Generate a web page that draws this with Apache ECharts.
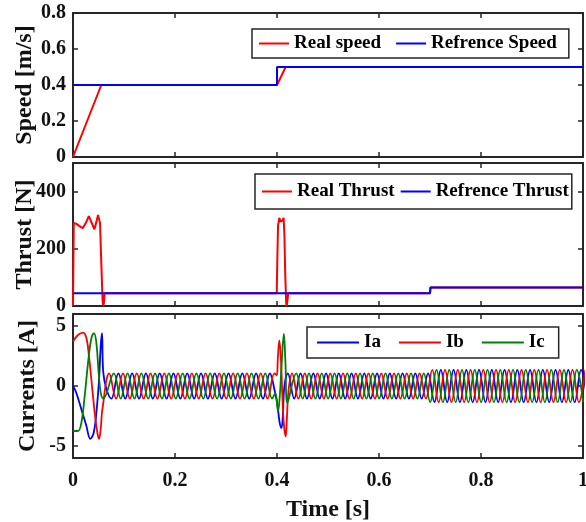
<!DOCTYPE html>
<html>
<head>
<meta charset="utf-8">
<script src="https://cdn.jsdelivr.net/npm/echarts@6/dist/echarts.min.js"></script>
<style>
html,body{margin:0;padding:0;background:#fff;}
#chart{width:586px;height:522px;}
</style>
</head>
<body>
<div id="chart"></div>
<script>
// ---------- data ----------
const timeTicks = [0, 0.2, 0.4, 0.6, 0.8, 1];
const speedTicks = [0, 0.2, 0.4, 0.6, 0.8];
const thrustTicks = [0, 200, 400];
const currentTicks = [-5, 0, 5];

const speedReal = [[0,0],[0.0555,0.4],[0.057,0.41],[0.06,0.4],[0.4,0.4],[0.417,0.5],[1,0.5]];
const speedRef = [[0,0.4],[0.4,0.4],[0.4,0.5],[1,0.5]];

const thrustReal = [[0,0],[0.0015,290],[0.006,288],[0.012,280],[0.019,272],[0.025,290],[0.031,314],[0.034,312],
  [0.038,285],[0.042,268],[0.046,295],[0.049,318],[0.051,318],[0.053,290],[0.0555,150],[0.058,20],[0.059,0],
  [0.0605,10],[0.062,45],[0.3995,45],[0.4005,150],[0.402,280],[0.4045,308],[0.407,295],[0.409,290],[0.411,300],
  [0.413,308],[0.4145,250],[0.416,120],[0.418,10],[0.419,0],[0.4205,20],[0.422,45],[0.7,45],[0.701,65],[1,65]];
const thrustRef = [[0,45],[0.7,45],[0.701,65],[1,65]];

const currentIa = [[0,0],[0.0014,-0.1],[0.0067,-0.6],[0.0165,-1.95],[0.026,-3.3],[0.034,-4.4],[0.0406,-3.9],
  [0.0459,-2.2],[0.051,0.5],[0.0543,3.3],[0.0569,4.4],[0.0592,1.2],[0.0755,-1.05],
  [0.089,1.05],[0.1025,-1.05],[0.116,1.05],[0.1295,-1.05],[0.143,1.05],[0.1565,-1.05],[0.17,1.05],[0.1835,-1.05],
  [0.197,1.05],[0.2105,-1.05],[0.224,1.05],[0.2375,-1.05],[0.251,1.05],[0.2645,-1.05],[0.278,1.05],[0.2915,-1.05],
  [0.305,1.05],[0.3185,-1.05],[0.332,1.05],[0.3455,-1.05],[0.359,1.05],[0.3725,-1.05],[0.386,1.05],
  [0.396,-0.5],[0.401,-1.6],[0.405,-3.0],[0.4087,-3.5],[0.4115,-2.4],[0.4145,0],[0.4212,1.05],
  [0.4337,-1.05],[0.4462,1.05],[0.4587,-1.05],[0.4712,1.05],[0.4837,-1.05],[0.4962,1.05],[0.5087,-1.05],[0.5212,1.05],
  [0.5337,-1.05],[0.5462,1.05],[0.5587,-1.05],[0.5712,1.05],[0.5837,-1.05],[0.5962,1.05],[0.6087,-1.05],[0.6212,1.05],
  [0.6337,-1.05],[0.6462,1.05],[0.6587,-1.05],[0.6712,1.05],[0.6837,-1.05],[0.6962,1.05],
  [0.7087,-1.35],[0.7212,1.35],[0.7337,-1.35],[0.7462,1.35],[0.7587,-1.35],[0.7712,1.35],[0.7837,-1.35],[0.7962,1.35],
  [0.8087,-1.35],[0.8212,1.35],[0.8337,-1.35],[0.8462,1.35],[0.8587,-1.35],[0.8712,1.35],[0.8837,-1.35],[0.8962,1.35],
  [0.9087,-1.35],[0.9212,1.35],[0.9337,-1.35],[0.9462,1.35],[0.9587,-1.35],[0.9712,1.35],[0.9837,-1.35],[0.9962,1.35],
  [1.0087,-1.35]];

const currentIb = [[0,3.7],[0.0098,4.25],[0.0196,4.45],[0.0263,4.0],[0.0314,2.45],[0.0361,0.5],[0.0425,-2.2],
  [0.0478,-3.9],[0.051,-4.4],[0.0543,-3.6],[0.0576,-1.95],
  [0.071,1.05],[0.0845,-1.05],[0.098,1.05],[0.1115,-1.05],[0.125,1.05],[0.1385,-1.05],[0.152,1.05],[0.1655,-1.05],
  [0.179,1.05],[0.1925,-1.05],[0.206,1.05],[0.2195,-1.05],[0.233,1.05],[0.2465,-1.05],[0.26,1.05],[0.2735,-1.05],
  [0.287,1.05],[0.3005,-1.05],[0.314,1.05],[0.3275,-1.05],[0.341,1.05],[0.3545,-1.05],[0.368,1.05],[0.3815,-1.05],
  [0.395,1.05],[0.3995,0.9],[0.4015,2.2],[0.4045,3.8],[0.4075,2.4],[0.4105,-0.8],[0.4135,-3.2],[0.417,-4.2],
  [0.4195,-2.6],[0.4225,-0.4],
  [0.4295,1.05],[0.442,-1.05],[0.4545,1.05],[0.467,-1.05],[0.4795,1.05],[0.492,-1.05],[0.5045,1.05],[0.517,-1.05],
  [0.5295,1.05],[0.542,-1.05],[0.5545,1.05],[0.567,-1.05],[0.5795,1.05],[0.592,-1.05],[0.6045,1.05],[0.617,-1.05],
  [0.6295,1.05],[0.642,-1.05],[0.6545,1.05],[0.667,-1.05],[0.6795,1.05],[0.692,-1.05],
  [0.7045,1.35],[0.717,-1.35],[0.7295,1.35],[0.742,-1.35],[0.7545,1.35],[0.767,-1.35],[0.7795,1.35],[0.792,-1.35],
  [0.8045,1.35],[0.817,-1.35],[0.8295,1.35],[0.842,-1.35],[0.8545,1.35],[0.867,-1.35],[0.8795,1.35],[0.892,-1.35],
  [0.9045,1.35],[0.917,-1.35],[0.9295,1.35],[0.942,-1.35],[0.9545,1.35],[0.967,-1.35],[0.9795,1.35],[0.992,-1.35],
  [1.0045,1.35]];

const currentIc = [[0,-3.75],[0.0098,-3.75],[0.0165,-3.05],[0.0229,-0.85],[0.0294,1.9],[0.0361,4.0],[0.0412,4.4],
  [0.0459,3.55],[0.0504,1.05],[0.0545,-0.6],[0.0595,-1.05],
  [0.08,1.05],[0.0935,-1.05],[0.107,1.05],[0.1205,-1.05],[0.134,1.05],[0.1475,-1.05],[0.161,1.05],[0.1745,-1.05],
  [0.188,1.05],[0.2015,-1.05],[0.215,1.05],[0.2285,-1.05],[0.242,1.05],[0.2555,-1.05],[0.269,1.05],[0.2825,-1.05],
  [0.296,1.05],[0.3095,-1.05],[0.323,1.05],[0.3365,-1.05],[0.35,1.05],[0.3635,-1.05],[0.377,1.05],[0.3905,-1.05],
  [0.3965,-0.6],[0.402,-2.1],[0.4055,-0.8],[0.409,1.8],[0.4135,4.35],[0.4165,2.0],[0.4205,-1.4],
  [0.4378,1.05],[0.4503,-1.05],[0.4628,1.05],[0.4753,-1.05],[0.4878,1.05],[0.5003,-1.05],[0.5128,1.05],[0.5253,-1.05],
  [0.5378,1.05],[0.5503,-1.05],[0.5628,1.05],[0.5753,-1.05],[0.5878,1.05],[0.6003,-1.05],[0.6128,1.05],[0.6253,-1.05],
  [0.6378,1.05],[0.6503,-1.05],[0.6628,1.05],[0.6753,-1.05],[0.6878,1.05],
  [0.7003,-1.35],[0.7128,1.35],[0.7253,-1.35],[0.7378,1.35],[0.7503,-1.35],[0.7628,1.35],[0.7753,-1.35],[0.7878,1.35],
  [0.8003,-1.35],[0.8128,1.35],[0.8253,-1.35],[0.8378,1.35],[0.8503,-1.35],[0.8628,1.35],[0.8753,-1.35],[0.8878,1.35],
  [0.9003,-1.35],[0.9128,1.35],[0.9253,-1.35],[0.9378,1.35],[0.9503,-1.35],[0.9628,1.35],[0.9753,-1.35],[0.9878,1.35],
  [1.0003,-1.35]];

// ---------- styling ----------
const FONT = "'Liberation Serif', 'Times New Roman', serif";
const AX = '#262626';
const RED = '#ff0000', BLUE = '#0000ff', GREEN = '#008000';

const grids = [
  {left: 73, right: 3, top: 13, height: 144, containLabel: false, outerBoundsMode: 'none'},
  {left: 73, right: 3, top: 163, height: 143, containLabel: false, outerBoundsMode: 'none'},
  {left: 73, right: 3, top: 314, height: 144, containLabel: false, outerBoundsMode: 'none'}
];

function xAx(g, pos, labels) {
  const a = {
    type: 'value', gridIndex: g, position: pos, min: 0, max: 1, interval: 0.2,
    axisLine: {show: true, onZero: false, lineStyle: {color: AX, width: 2}},
    axisTick: {show: true, inside: true, length: 5, lineStyle: {color: AX, width: 1.5}},
    axisLabel: {show: labels, margin: 13, color: '#111', fontFamily: FONT, fontWeight: 'bold', fontSize: 20,
      customValues: timeTicks, formatter: v => String(v)},
    splitLine: {show: false}
  };
  if (labels) {
    a.name = 'Time [s]'; a.nameLocation = 'middle'; a.nameGap = 40; a.nameMoveOverlap = false;
    a.nameTextStyle = {color: '#111', fontFamily: FONT, fontWeight: 'bold', fontSize: 24};
  }
  return a;
}
function yAx(g, pos, min, max, ticks, name, gap) {
  const a = {
    type: 'value', gridIndex: g, position: pos, min: min, max: max,
    axisLine: {show: true, onZero: false, lineStyle: {color: AX, width: 2}},
    axisTick: {show: true, inside: true, length: 5, customValues: ticks, lineStyle: {color: AX, width: 1.5}},
    axisLabel: {show: pos === 'left', margin: 7, customValues: ticks, color: '#111', fontFamily: FONT,
      fontWeight: 'bold', fontSize: 20, formatter: v => String(v)},
    splitLine: {show: false}
  };
  if (pos === 'left') {
    a.name = name; a.nameLocation = 'middle'; a.nameGap = gap; a.nameMoveOverlap = false;
    a.nameTextStyle = {color: '#111', fontFamily: FONT, fontWeight: 'bold', fontSize: 24};
  }
  return a;
}

const legendText = {color: '#000', fontFamily: FONT, fontWeight: 'bold', fontSize: 19};
function legend(names, left, top, iw, gap, pad) {
  return {
    data: names, left: left, top: top, orient: 'horizontal', icon: 'rect', itemWidth: iw, itemHeight: 2,
    itemGap: gap, padding: pad, borderColor: AX, borderWidth: 1.5, backgroundColor: '#fff',
    textStyle: legendText, selectedMode: false
  };
}

function line(name, data, color, xi, yi, width, smooth) {
  return {
    name: name, type: 'line', data: data, xAxisIndex: xi, yAxisIndex: yi, symbol: 'none',
    smooth: smooth || false, lineStyle: {color: color, width: width}, itemStyle: {color: color},
    clip: true, animation: false
  };
}

const option = {
  backgroundColor: '#fff',
  animation: false,
  grid: grids,
  xAxis: [xAx(0,'bottom',false), xAx(0,'top',false), xAx(1,'bottom',false), xAx(1,'top',false),
          xAx(2,'bottom',true), xAx(2,'top',false)],
  yAxis: [yAx(0,'left',0,0.8,speedTicks,'Speed [m/s]',36), yAx(0,'right',0,0.8,speedTicks),
          yAx(1,'left',0,500,thrustTicks,'Thrust [N]',36), yAx(1,'right',0,500,thrustTicks),
          yAx(2,'left',-6,6,currentTicks,'Currents [A]',33), yAx(2,'right',-6,6,currentTicks)],
  legend: [
    legend(['Real speed','Refrence Speed'], 252, 29, 30, 15, [5,12,5,7]),
    legend(['Real Thrust','Refrence Thrust'], 255, 174, 30, 6, [8,3,8,7]),
    legend(['Ia','Ib','Ic'], 307, 327, 42, 18, [6,14,6,10])
  ],
  series: [
    line('Real speed', speedReal, RED, 0, 0, 2),
    line('Refrence Speed', speedRef, BLUE, 0, 0, 2),
    line('Real Thrust', thrustReal, RED, 2, 2, 2),
    line('Refrence Thrust', thrustRef, BLUE, 2, 2, 2),
    line('Ia', currentIa, BLUE, 4, 4, 1.8, 0.4),
    line('Ib', currentIb, RED, 4, 4, 1.8, 0.4),
    line('Ic', currentIc, GREEN, 4, 4, 1.8, 0.4)
  ]
};

const chart = echarts.init(document.getElementById('chart'), null, {renderer: 'canvas'});
chart.setOption(option);
</script>
</body>
</html>
